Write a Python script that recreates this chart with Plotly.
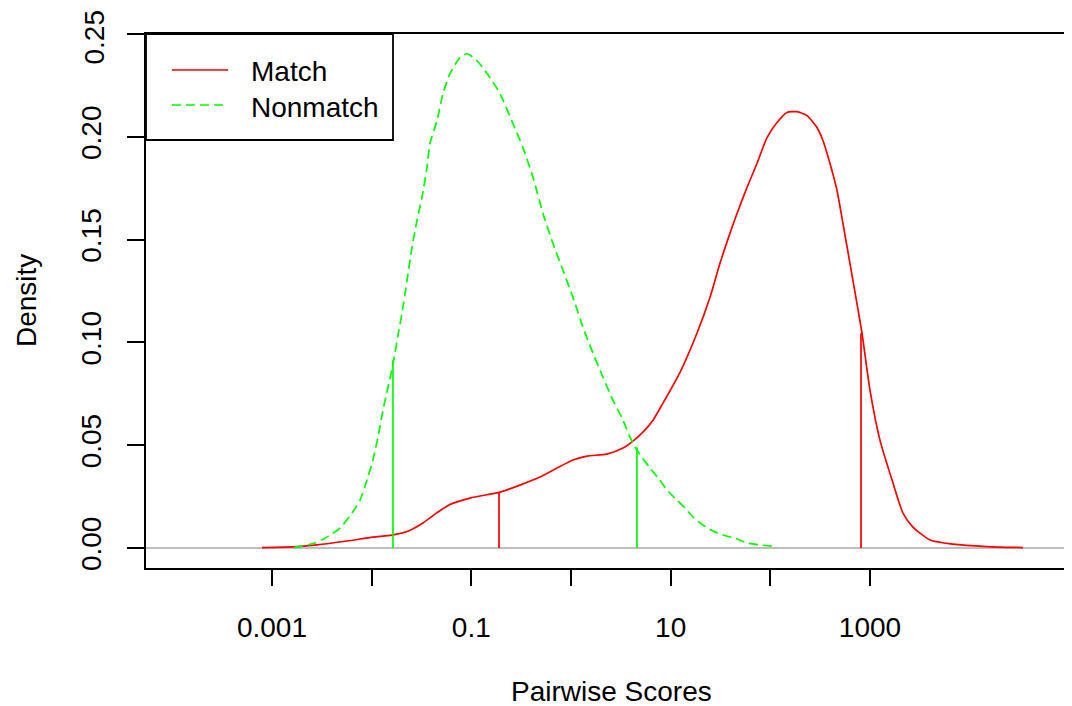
import plotly.graph_objects as go

# ---- data (x in log10 of pairwise score, y density) ----
match_log10 = [-3.100, -2.749, -2.548, -2.247, -1.987, -1.796, -1.645, -1.485, -1.344, -1.214,
               -1.013, -0.712, -0.512, -0.311, -0.140, 0.020, 0.161, 0.361, 0.522, 0.622,
               0.722, 0.823, 0.923, 1.094, 1.264, 1.395, 1.495, 1.595, 1.666, 1.766,
               1.866, 1.967, 2.067, 2.167, 2.267, 2.368, 2.468, 2.528, 2.599, 2.669,
               2.729, 2.799, 2.869, 2.920, 3.000, 3.100, 3.231, 3.331, 3.431, 3.602,
               3.833, 4.174, 4.535]
match_density = [0.0002, 0.0007, 0.0015, 0.0034, 0.0053, 0.0063, 0.0080, 0.0122, 0.0172, 0.0212,
                 0.0243, 0.0272, 0.0306, 0.0345, 0.0389, 0.0428, 0.0447, 0.0457, 0.0486, 0.0520,
                 0.0564, 0.0622, 0.0705, 0.0855, 0.1045, 0.1220, 0.1385, 0.1531, 0.1628, 0.1754,
                 0.1871, 0.1997, 0.2070, 0.2119, 0.2123, 0.2104, 0.2046, 0.1983, 0.1871, 0.1740,
                 0.1579, 0.1385, 0.1190, 0.1045, 0.0768, 0.0525, 0.0316, 0.0170, 0.0102, 0.0039,
                 0.0019, 0.0007, 0.0002]

nonmatch_log10 = [-2.779, -2.569, -2.448, -2.318, -2.197, -2.117, -2.037, -1.987, -1.937, -1.886,
                  -1.836, -1.796, -1.766, -1.736, -1.696, -1.645, -1.595, -1.545, -1.495, -1.445,
                  -1.415, -1.344, -1.284, -1.214, -1.114, -1.043, -0.943, -0.813, -0.712, -0.582,
                  -0.482, -0.381, -0.281, -0.181, -0.080, 0.020, 0.120, 0.221, 0.321, 0.421,
                  0.522, 0.592, 0.662, 0.793, 0.893, 0.963, 1.064, 1.144, 1.224, 1.324,
                  1.425, 1.525, 1.666, 1.766, 1.896, 2.067]
nonmatch_density = [0.0002, 0.0024, 0.0053, 0.0097, 0.0170, 0.0233, 0.0345, 0.0428, 0.0539, 0.0671,
                    0.0782, 0.0870, 0.0948, 0.1035, 0.1142, 0.1302, 0.1463, 0.1594, 0.1706, 0.1851,
                    0.1968, 0.2080, 0.2211, 0.2308, 0.2386, 0.2405, 0.2371, 0.2289, 0.2211, 0.2065,
                    0.1948, 0.1803, 0.1628, 0.1482, 0.1351, 0.1220, 0.1074, 0.0948, 0.0831, 0.0719,
                    0.0622, 0.0539, 0.0476, 0.0389, 0.0330, 0.0282, 0.0233, 0.0194, 0.0151, 0.0112,
                    0.0083, 0.0063, 0.0044, 0.0024, 0.0015, 0.0007]

# vertical reference segments (log10 score, density at top)
match_marks_log10 = [-0.722, 2.910]
match_marks_density = [0.0272, 0.1045]
nonmatch_marks_log10 = [-1.786, 0.662]
nonmatch_marks_density = [0.0913, 0.0490]

tick_vals = [-3, -2, -1, 0, 1, 2, 3]
tick_text = ["0.001", "", "0.1", "", "10", "", "1000"]
y_tick_vals = [0.00, 0.05, 0.10, 0.15, 0.20, 0.25]
y_tick_text = ["0.00", "0.05", "0.10", "0.15", "0.20", "0.25"]

series_names = ["Match", "Nonmatch"]
RED = "#FF0000"
GREEN = "#00FF00"
FONT = "Liberation Sans, Arial, sans-serif"
FS = 28


def segments(xs, ys):
    sx, sy = [], []
    for x, y in zip(xs, ys):
        sx += [x, x, None]
        sy += [0, y, None]
    return sx, sy


fig = go.Figure()

fig.add_trace(go.Scatter(x=match_log10, y=match_density, mode="lines",
                         line=dict(color=RED, width=1.7, shape="spline", smoothing=0.6),
                         name=series_names[0], showlegend=False, hoverinfo="skip"))
fig.add_trace(go.Scatter(x=nonmatch_log10, y=nonmatch_density, mode="lines",
                         line=dict(color=GREEN, width=1.7, dash="9px,5px", shape="spline", smoothing=0.6),
                         name=series_names[1], showlegend=False, hoverinfo="skip"))

mx, my = segments(match_marks_log10, match_marks_density)
fig.add_trace(go.Scatter(x=mx, y=my, mode="lines", line=dict(color=RED, width=1.7),
                         showlegend=False, hoverinfo="skip"))
nx, ny = segments(nonmatch_marks_log10, nonmatch_marks_density)
fig.add_trace(go.Scatter(x=nx, y=ny, mode="lines", line=dict(color=GREEN, width=1.7),
                         showlegend=False, hoverinfo="skip"))

# page has an 8px body margin: figure is placed at (8, 8)
OFF = 8
W, H = 1072 - OFF, 706 - OFF
L, R_, T, B = 146 - OFF, 0, 34 - OFF, 706 - 568
pw, ph = W - L - R_, H - T - B


def px_x(p):  # page pixel -> paper x
    return (p - OFF - L) / pw


def px_y(p):  # page pixel -> paper y
    return (H - B - (p - OFF)) / ph


shapes = [
    # legend box
    dict(type="rect", xref="paper", yref="paper", x0=px_x(146), x1=px_x(393),
         y0=px_y(140), y1=px_y(34), line=dict(color="#000000", width=1.8), fillcolor="white"),
    dict(type="line", xref="paper", yref="paper", x0=px_x(172), x1=px_x(228),
         y0=px_y(70), y1=px_y(70), line=dict(color=RED, width=1.7)),
    dict(type="line", xref="paper", yref="paper", x0=px_x(172), x1=px_x(228),
         y0=px_y(105), y1=px_y(105), line=dict(color=GREEN, width=1.7, dash="9px,5px")),
]

tfont = dict(family=FONT, size=FS, color="black")
annotations = [
    dict(text=series_names[0], xref="paper", yref="paper", x=px_x(249), y=px_y(72),
         xanchor="left", yanchor="middle", showarrow=False, font=tfont),
    dict(text=series_names[1], xref="paper", yref="paper", x=px_x(249), y=px_y(107),
         xanchor="left", yanchor="middle", showarrow=False, font=tfont),
    dict(text="Pairwise Scores", xref="paper", yref="paper", x=px_x(611), y=px_y(691),
         xanchor="center", yanchor="middle", showarrow=False, font=tfont),
    dict(text="Density", xref="paper", yref="paper", x=px_x(26), y=px_y(300), textangle=-90,
         xanchor="center", yanchor="middle", showarrow=False, font=tfont),
    # top y tick label, placed so it is not clipped at the page top
    dict(text=y_tick_text[-1], xref="paper", yref="paper", x=px_x(94), y=px_y(8), textangle=-90,
         xanchor="center", yanchor="top", showarrow=False, font=tfont),
]

fig.update_layout(
    width=W, height=H,
    margin=dict(l=L, r=R_, t=T, b=B, pad=0, autoexpand=False),
    paper_bgcolor="white", plot_bgcolor="white",
    font=tfont,
    shapes=shapes, annotations=annotations,
    showlegend=False,
)

fig.update_xaxes(range=[-4.264, 5.027], showgrid=False, zeroline=False, automargin=False,
                 showline=True, mirror=True, linecolor="#000000", linewidth=1.8,
                 tickmode="array", tickvals=tick_vals, ticktext=tick_text,
                 ticks="outside", ticklen=16, tickwidth=1.5, tickcolor="#000000",
                 ticklabelstandoff=17, tickfont=tfont)
fig.update_yaxes(range=[-0.00973, 0.2501], showgrid=False, automargin=False,
                 zeroline=True, zerolinecolor="#BEBEBE", zerolinewidth=1.7,
                 showline=True, mirror=False, linecolor="#000000", linewidth=1.8,
                 tickmode="array", tickvals=y_tick_vals, ticktext=y_tick_text[:-1] + [""],
                 ticks="outside", ticklen=17, tickwidth=1.5, tickcolor="#000000",
                 tickangle=-90, ticklabelstandoff=15, tickfont=tfont)

fig.write_html("out.html")
